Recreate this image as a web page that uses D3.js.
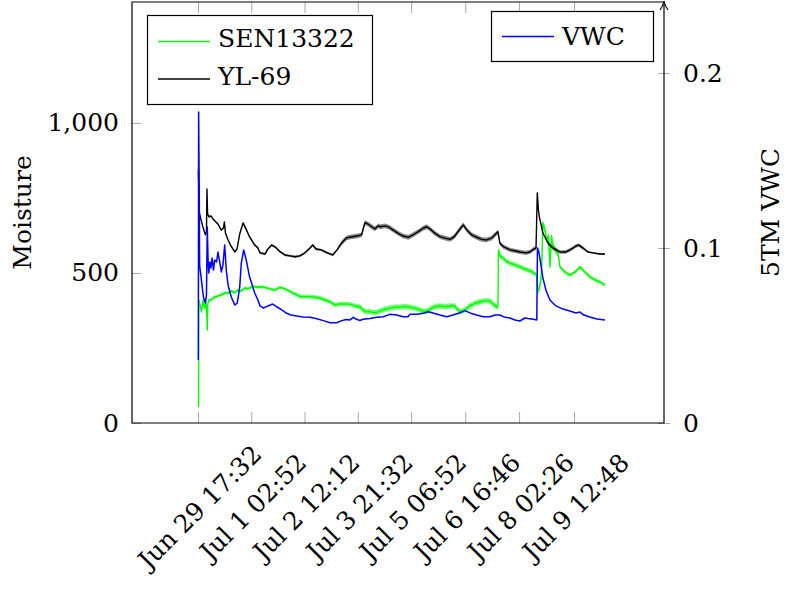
<!DOCTYPE html>
<html><head><meta charset="utf-8">
<script src="https://cdn.jsdelivr.net/npm/d3@7"></script>
<style>html,body{margin:0;padding:0;background:#fff;} text{font-family:"DejaVu Serif",serif;font-size:25px;fill:#000;}</style>
</head><body><svg id="c" width="790" height="593"></svg>
<script>
// ---- data (time in hours since startTime) ----
const startTime = "2017-06-29 17:32";
const tickTimes = ["2017-06-29 17:32","2017-07-01 02:52","2017-07-02 12:12","2017-07-03 21:32",
                   "2017-07-05 06:52","2017-07-06 16:46","2017-07-08 02:26","2017-07-09 12:48"];
const leftTicks = [0, 500, 1000];
const rightTicks = [0, 0.1, 0.2];
const leftMax = 1403, rightMax = 0.2406;
const seriesNames = ["SEN13322", "YL-69", "VWC"];
const axisTitles = ["Moisture", "5TM VWC"];

const greenData = [[0.3,53],[0.5,410],[1.3,393],[2.2,370],[3.1,410],[4.1,383],[5.0,403],[5.6,350],[5.8,310],[6.1,393],[6.7,410],[8.1,410],[10.4,420],[12.5,423],[14.6,427],[16.7,433],[18.8,433],[20.8,440],[23.0,434],[25.0,443],[26.9,440],[29.2,450],[31.3,447],[33.2,452],[35.5,454],[37.5,453],[40.9,453],[45.0,447],[48.2,443],[51.3,452],[54.4,447],[57.6,438],[60.7,430],[63.8,421],[66.9,421],[70.1,421],[73.2,419],[76.3,416],[79.5,410],[82.6,404],[85.7,393],[88.8,397],[92.0,396],[95.1,396],[98.2,390],[101.3,387],[104.5,371],[107.6,371],[110.7,367],[113.9,373],[117.0,379],[120.1,383],[123.2,386],[126.4,386],[129.5,388],[132.6,386],[135.8,382],[138.9,377],[142.0,371],[145.1,379],[148.3,388],[151.4,390],[154.5,388],[157.7,390],[160.8,390],[162.2,379],[164.3,371],[167.0,377],[170.2,390],[173.3,399],[176.4,404],[179.5,407],[182.7,407],[185.2,393],[187.2,386],[187.7,390],[188.0,577],[188.9,557],[190.8,550],[193.1,538],[195.2,533],[198.3,527],[201.4,520],[204.6,513],[207.7,507],[210.2,500],[211.8,493],[212.4,443],[213.3,443],[214.6,477],[215.2,543],[215.8,667],[217.1,643],[218.3,610],[219.3,623],[220.2,520],[221.2,623],[222.1,593],[223.4,577],[225.2,567],[226.5,520],[229.6,503],[232.7,493],[235.9,503],[239.0,520],[242.1,503],[245.2,487],[248.4,477],[251.5,470],[254.6,460]];

const blackData = [[0.2,843],[0.8,703],[1.9,677],[3.1,653],[4.6,627],[5.3,637],[5.6,780],[6.0,697],[6.9,687],[8.1,690],[9.4,680],[10.6,673],[12.5,663],[14.6,643],[16.0,650],[16.5,670],[17.2,633],[18.8,610],[20.6,590],[23.0,570],[24.4,580],[26.1,630],[28.2,667],[30.0,647],[32.3,620],[35.5,593],[37.5,583],[38.8,567],[41.9,563],[43.8,580],[46.1,593],[48.2,587],[51.3,571],[54.4,560],[57.6,557],[60.7,554],[63.8,557],[66.9,567],[70.1,583],[71.8,593],[73.8,580],[77.0,577],[80.5,568],[84.3,560],[87.0,577],[89.9,600],[93.0,617],[95.7,620],[99.3,623],[102.4,627],[103.5,650],[104.5,668],[106.4,663],[108.7,654],[110.7,647],[112.8,657],[113.9,654],[117.0,657],[119.5,653],[122.2,643],[125.3,632],[128.4,623],[131.6,619],[134.5,627],[137.8,638],[140.9,649],[143.1,654],[145.1,647],[148.3,632],[151.4,621],[154.5,616],[157.7,612],[160.2,620],[162.2,634],[164.3,649],[166.0,660],[168.3,643],[171.2,627],[174.4,619],[177.5,612],[180.6,610],[183.7,616],[185.8,627],[186.9,633],[187.7,637],[188.9,599],[191.0,588],[195.2,577],[198.9,573],[201.4,570],[205.2,567],[207.7,570],[210.2,580],[211.5,583],[212.3,767],[213.0,710],[213.6,687],[215.8,633],[219.0,600],[222.1,583],[226.5,570],[230.2,570],[232.7,577],[234.6,583],[236.5,590],[238.3,593],[240.9,583],[244.0,570],[247.1,567],[251.5,563],[254.6,563]];

const blueData = [[0.2,0.0360],[0.4,0.1777],[0.8,0.1274],[1.0,0.0903],[1.6,0.0857],[2.5,0.0789],[3.4,0.0720],[4.6,0.0686],[5.3,0.0731],[5.8,0.1120],[6.3,0.0931],[6.7,0.0857],[7.5,0.0920],[8.1,0.0886],[8.8,0.0943],[9.7,0.0874],[10.4,0.0931],[11.6,0.0920],[12.5,0.0977],[13.6,0.0920],[14.6,0.0863],[15.6,0.0903],[16.7,0.1017],[17.7,0.0874],[18.8,0.0789],[20.8,0.0720],[23.0,0.0674],[24.6,0.0686],[26.1,0.0777],[27.1,0.0914],[28.6,0.0989],[30.2,0.0931],[32.3,0.0834],[35.5,0.0743],[37.5,0.0703],[38.8,0.0669],[40.9,0.0657],[43.8,0.0669],[46.7,0.0680],[49.4,0.0663],[52.4,0.0646],[55.5,0.0627],[58.2,0.0617],[61.7,0.0611],[65.7,0.0606],[70.1,0.0604],[73.8,0.0597],[78.4,0.0585],[82.6,0.0573],[86.8,0.0573],[89.9,0.0585],[92.6,0.0591],[95.1,0.0589],[97.2,0.0604],[98.8,0.0594],[101.3,0.0586],[103.2,0.0593],[107.6,0.0597],[111.8,0.0604],[115.9,0.0607],[120.1,0.0621],[124.3,0.0617],[128.4,0.0607],[131.4,0.0607],[132.6,0.0621],[136.8,0.0621],[140.9,0.0627],[144.1,0.0636],[147.0,0.0629],[151.4,0.0617],[155.6,0.0607],[159.5,0.0617],[163.9,0.0630],[167.0,0.0642],[170.2,0.0629],[174.4,0.0617],[178.5,0.0607],[182.7,0.0607],[185.8,0.0617],[188.9,0.0617],[192.1,0.0604],[195.2,0.0600],[198.3,0.0589],[201.4,0.0583],[204.6,0.0600],[206.4,0.0597],[208.9,0.0594],[212.0,0.0589],[212.4,0.1000],[213.3,0.0977],[214.6,0.0903],[215.8,0.0829],[217.7,0.0760],[220.2,0.0703],[224.0,0.0669],[228.3,0.0651],[232.7,0.0640],[236.5,0.0629],[239.0,0.0634],[241.5,0.0617],[245.2,0.0606],[249.6,0.0594],[254.6,0.0589]];

// visible noise half-range of the sensor traces: [from hour, to hour, +/- moisture units]
const blackNoise = [[0,5.5,0],[5.5,30,3],[30,89,4],[89,188,8],[188,212,7],[212,216.5,0],[216.5,241,6],[241,260,3]];
const greenNoise = [[0,8,5],[8,60,5],[60,100,7],[100,188,9],[188,212,8],[212,226,12],[226,260,6]];

// ---- layout ----
const L = 132, R = 664, T = 2, B = 423;
const parse = d3.timeParse("%Y-%m-%d %H:%M");
const fmt = d3.timeFormat("%b %-d %H:%M");
const t0 = parse(startTime);
const toDate = h => new Date(t0.getTime() + h * 3600000);
const tickD = tickTimes.map(parse);
const spreadAt = (noise, h) => (noise.find(s => h >= s[0] && h < s[1]) || [0, 0, 0])[2];

const x = d3.scaleTime().domain([tickD[0], tickD[tickD.length - 1]]).range([198, 574]);
x.domain([x.invert(L), x.invert(R)]).range([L, R]);
const yL = d3.scaleLinear().domain([0, leftMax]).range([B, T]);
const yR = d3.scaleLinear().domain([0, rightMax]).range([B, T]);

const svg = d3.select("#c");
const tickColor = "#a8a8a8";
const FF = '"DejaVu Serif",serif';
const LW = 1.4;

// x ticks bottom & top (inward)
svg.append("g").attr("transform", `translate(0,${B})`)
  .call(d3.axisBottom(x).tickValues(tickD).tickSize(-11).tickFormat(""))
  .call(g => { g.select(".domain").remove(); g.selectAll("line").attr("stroke", tickColor); });
svg.append("g").attr("transform", `translate(0,${T})`)
  .call(d3.axisTop(x).tickValues(tickD).tickSize(-11).tickFormat(""))
  .call(g => { g.select(".domain").remove(); g.selectAll("line").attr("stroke", tickColor); });

// left axis
svg.append("g").attr("transform", `translate(${L},0)`)
  .call(d3.axisLeft(yL).tickValues(leftTicks).tickSize(-9).tickPadding(13).tickFormat(d3.format(",")))
  .call(g => {
    g.select(".domain").remove();
    g.selectAll("line").attr("stroke", tickColor);
    g.selectAll("text").style("font-size", "25px").style("font-family", FF);
  });

// right axis
svg.append("g").attr("transform", `translate(${R},0)`)
  .call(d3.axisRight(yR).tickValues(rightTicks).tickSize(6).tickPadding(13).tickFormat(d => d === 0 ? "0" : d3.format(".1f")(d)))
  .call(g => {
    g.select(".domain").remove();
    g.selectAll("line").attr("x1", -6).attr("stroke", tickColor);
    g.selectAll("text").style("font-size", "25px").style("font-family", FF);
  });

// x tick labels rotated
svg.append("g").selectAll("text").data(tickD).join("text")
  .attr("transform", d => `translate(${x(d) + 2},507) rotate(-45)`)
  .attr("text-anchor", "middle").attr("dominant-baseline", "central")
  .text(d => fmt(d));

// noise bands + lines
const band = (noise) => d3.area().x(d => x(toDate(d[0])))
  .y0(d => yL(d[1] - spreadAt(noise, d[0]))).y1(d => yL(d[1] + spreadAt(noise, d[0])));
const lineL = d3.line().x(d => x(toDate(d[0]))).y(d => yL(d[1]));
const lineR = d3.line().x(d => x(toDate(d[0]))).y(d => yR(d[1]));

svg.append("path").datum(greenData).attr("d", band(greenNoise)).attr("fill", "#00ff00").attr("fill-opacity", 0.55);
svg.append("path").datum(greenData).attr("d", lineL).attr("fill", "none").attr("stroke", "#00ff00").attr("stroke-width", LW).attr("stroke-linejoin", "round");
svg.append("path").datum(blackData).attr("d", band(blackNoise)).attr("fill", "#000").attr("fill-opacity", 0.45);
svg.append("path").datum(blackData).attr("d", lineL).attr("fill", "none").attr("stroke", "#000").attr("stroke-width", LW).attr("stroke-linejoin", "round");
svg.append("path").datum(blueData).attr("d", lineR).attr("fill", "none").attr("stroke", "#0000ff").attr("stroke-width", LW + 0.1).attr("stroke-linejoin", "round");

// frame
svg.append("path").attr("d", `M${R},${T}H${L}V${B}H${R}V${T - 1}`).attr("fill", "none").attr("stroke", "#000").attr("stroke-width", 1.2);
svg.append("path").attr("d", `M${R - 4},${T + 8}Q${R - 1},${T + 4} ${R},${T - 1}Q${R + 1},${T + 4} ${R + 4},${T + 8}`).attr("fill", "none").attr("stroke", "#000").attr("stroke-width", 1.2);

// axis titles
svg.append("text").attr("transform", `translate(22,${(T + B) / 2}) rotate(-90)`).attr("text-anchor", "middle").attr("dominant-baseline", "central").text(axisTitles[0]);
svg.append("text").attr("transform", `translate(770,${(T + B) / 2}) rotate(-90)`).attr("text-anchor", "middle").attr("dominant-baseline", "central").text(axisTitles[1]);

// legends
const lg1 = svg.append("g");
lg1.append("rect").attr("x", 147.5).attr("y", 15.5).attr("width", 225).attr("height", 89).attr("fill", "#fff").attr("stroke", "#000").attr("stroke-width", 1.2);
lg1.append("line").attr("x1", 158).attr("x2", 210).attr("y1", 41.5).attr("y2", 41.5).attr("stroke", "#00ff00").attr("stroke-width", LW);
lg1.append("text").attr("x", 218).attr("y", 47).text(seriesNames[0]);
lg1.append("line").attr("x1", 158).attr("x2", 210).attr("y1", 79).attr("y2", 79).attr("stroke", "#000").attr("stroke-width", LW);
lg1.append("text").attr("x", 218).attr("y", 85).text(seriesNames[1]);

const lg2 = svg.append("g");
lg2.append("rect").attr("x", 491.5).attr("y", 11.5).attr("width", 162).attr("height", 50).attr("fill", "#fff").attr("stroke", "#000").attr("stroke-width", 1.2);
lg2.append("line").attr("x1", 502).attr("x2", 554).attr("y1", 36.5).attr("y2", 36.5).attr("stroke", "#0000ff").attr("stroke-width", LW);
lg2.append("text").attr("x", 562).attr("y", 45).text(seriesNames[2]);
</script></body></html>
